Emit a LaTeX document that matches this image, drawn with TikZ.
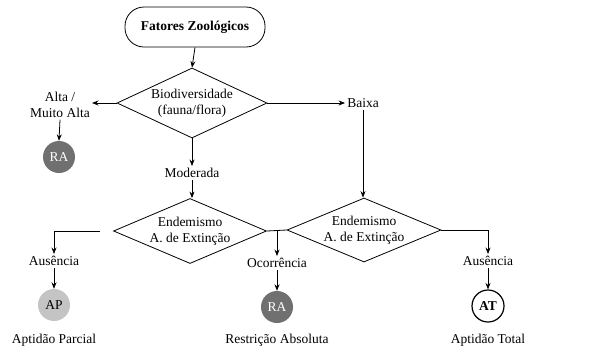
\documentclass[tikz,border=0pt]{standalone}
\usepackage{fontspec}
\setmainfont{Liberation Serif}
\usetikzlibrary{shapes.geometric,arrows.meta}
\definecolor{darkg}{HTML}{707070}
\definecolor{lightg}{HTML}{C4C4C4}
\begin{document}
\begin{tikzpicture}[x=1pt,y=-1pt,
  every node/.style={font=\fontsize{13.5}{15.5}\selectfont},
  startbox/.style={draw,line width=0.8pt,rounded corners=19pt,minimum width=140pt,minimum height=40pt},
  dia/.style={draw,line width=0.8pt,diamond,inner sep=0pt,align=center},
  lbl/.style={inner sep=2pt,align=center},
  circ/.style={circle,inner sep=0pt,minimum size=32pt},
  arr/.style={-{Stealth[length=6.5pt,width=5pt]},line width=0.8pt},
  ln/.style={line width=0.8pt}]
\useasboundingbox (0,0) rectangle (607,354);
\node[startbox] (start) at (195,27) {\textbf{Fatores Zoológicos}};
\node[dia,minimum width=150pt,minimum height=70pt,aspect=2.14] (bio) at (192,103) {Biodiversidade\\(fauna/flora)};
\node[lbl] (alta) at (60,105) {Alta /\\Muito Alta};
\node[circ,fill=darkg,text=white] (ra1) at (59,157) {RA};
\node[lbl] (baixa) at (363,103) {Baixa};
\node[lbl] (mod) at (192,173) {Moderada};
\node[dia,minimum width=153pt,minimum height=65pt,aspect=2.35] (end1) at (190,231) {Endemismo\\A. de Extinção};
\node[dia,minimum width=154pt,minimum height=64pt,aspect=2.4] (end2) at (364,230) {Endemismo\\A. de Extinção};
\coordinate (mid) at (277,231);
\coordinate (lstart) at (100,231);
\node[lbl] (aus1) at (54,261) {Ausência};
\node[circ,fill=lightg] (ap) at (54,305) {AP};
\node[lbl] (apl) at (54,340) {Aptidão Parcial};
\node[lbl] (oc) at (277,263) {Ocorrência};
\node[circ,fill=darkg,text=white] (ra2) at (277,307) {RA};
\node[lbl] (ral) at (277,340) {Restrição Absoluta};
\node[lbl] (aus2) at (488,261) {Ausência};
\node[circ,draw,line width=1.2pt,fill=white] (at) at (488,306) {\textbf{AT}};
\node[lbl] (atl) at (488,340) {Aptidão Total};
\draw[arr] (start.south) -- (bio.north);
\draw[arr] (bio.west) -- (alta.east |- bio.west);
\draw[arr] (alta.south) -- (ra1.north);
\draw[arr] (bio.east) -- (baixa.west);
\draw[arr] (baixa.south) -- (baixa.south |- end2.north);
\draw[arr] (bio.south) -- (mod.north);
\draw[arr] (mod.south) -- (mod.south |- end1.north);
\draw[ln] (end1.east) -- (end2.west);
\draw[arr] (mid) -- (oc.north);
\draw[arr] (lstart) -| (aus1.north);
\draw[arr] (aus1.south) -- (ap.north);
\draw[arr] (oc.south) -- (ra2.north);
\draw[arr] (end2.east) -| (aus2.north);
\draw[arr] (aus2.south) -- (at.north);
\end{tikzpicture}
\end{document}
